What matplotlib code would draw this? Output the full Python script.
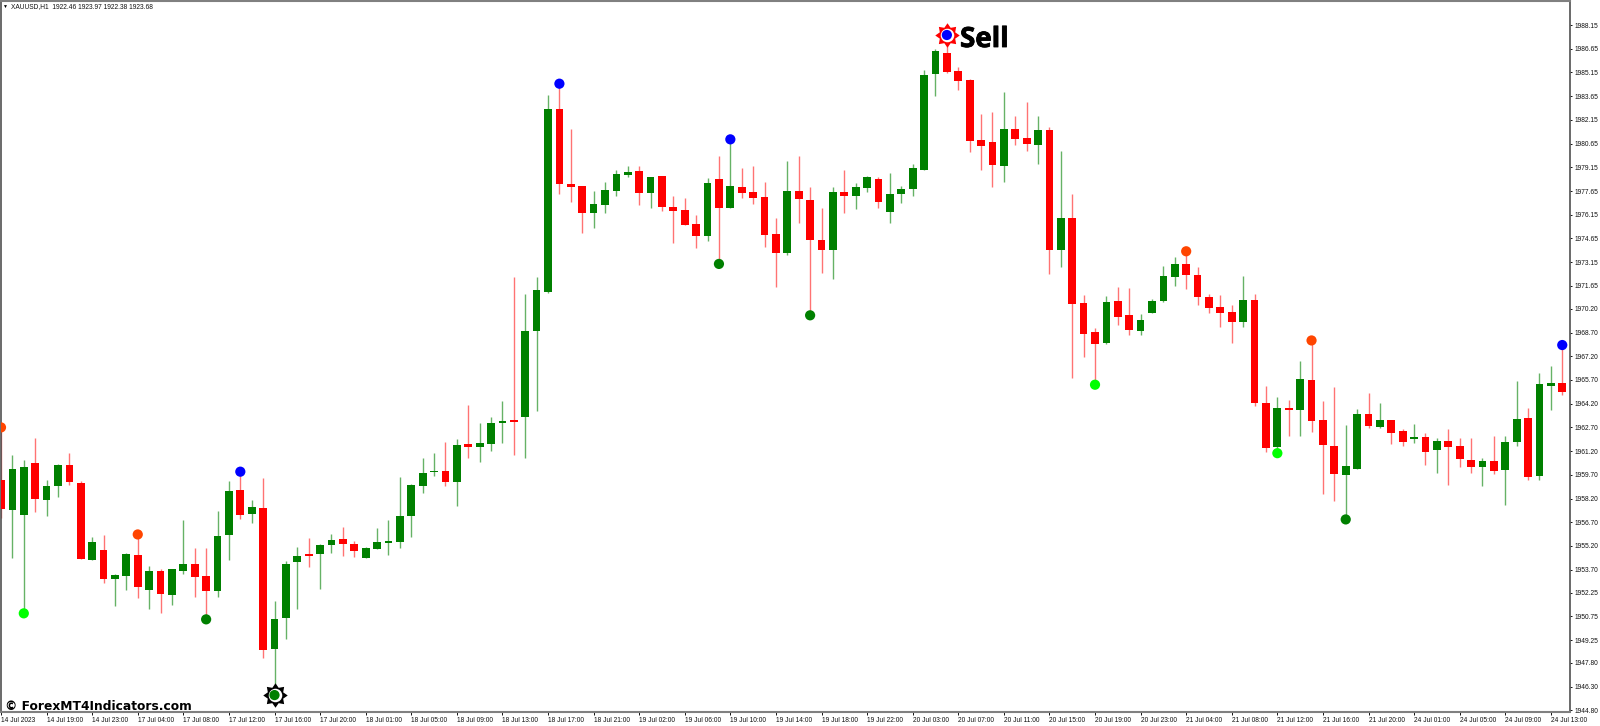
#!/usr/bin/env python3
# -*- coding: utf-8 -*-
import numpy as np
import matplotlib
matplotlib.use('Agg')
import matplotlib.pyplot as plt
import matplotlib.patheffects as pe
from matplotlib.path import Path

# hourly candles, one value per bar
open_p = [1959.35,1957.47,1957.16,1960.47,1958.10,1958.99,1960.32,1959.16,1954.31,1954.92,
          1953.13,1953.32,1954.65,1952.41,1953.61,1952.10,1953.61,1954.04,1953.30,1952.37,
          1955.89,1958.72,1957.22,1957.58,1948.68,1950.64,1954.16,1954.60,1954.67,1955.24,
          1955.62,1955.32,1954.46,1955.03,1955.41,1955.43,1957.11,1958.99,1959.85,1959.96,
          1959.26,1961.65,1961.48,1961.65,1962.95,1963.12,1963.38,1968.80,1971.29,1982.84,
          1978.12,1977.99,1976.24,1976.75,1977.65,1978.69,1978.90,1977.55,1978.58,1976.64,
          1976.45,1975.57,1974.81,1978.39,1976.60,1977.93,1977.57,1977.27,1974.93,1973.73,
          1977.63,1977.08,1974.55,1973.90,1977.59,1977.34,1977.86,1978.39,1976.30,1977.46,
          1977.78,1979.00,1985.03,1986.40,1985.24,1984.65,1980.88,1980.73,1979.23,1981.59,
          1981.00,1980.56,1981.51,1973.94,1975.96,1970.57,1968.71,1968.06,1970.69,1969.79,
          1968.82,1969.93,1970.69,1972.23,1973.03,1972.34,1970.94,1970.29,1970.01,1969.38,
          1970.73,1964.24,1961.45,1963.92,1963.79,1965.73,1963.20,1961.54,1959.70,1960.10,
          1963.56,1962.72,1963.16,1962.45,1961.96,1962.09,1961.24,1961.85,1961.50,1960.63,
          1960.17,1960.55,1959.98,1961.77,1963.29,1959.62,1965.33,1965.54]
high_p = [1962.70,1960.95,1960.63,1962.01,1959.37,1960.38,1961.06,1959.31,1955.79,1955.89,
          1953.42,1954.73,1955.93,1953.93,1953.74,1953.74,1956.84,1955.05,1955.05,1957.41,
          1959.31,1959.90,1958.10,1959.48,1951.70,1954.23,1955.15,1955.70,1955.30,1955.95,
          1956.42,1955.51,1955.11,1956.33,1956.84,1959.58,1959.09,1960.74,1961.10,1961.77,
          1961.98,1964.11,1962.98,1963.35,1964.39,1972.19,1971.14,1972.19,1983.73,1984.44,
          1981.55,1977.99,1977.65,1978.22,1978.98,1979.21,1979.21,1978.54,1978.58,1977.34,
          1977.19,1976.14,1978.46,1979.87,1980.92,1979.11,1979.21,1978.22,1975.95,1979.55,
          1979.87,1977.91,1976.55,1977.93,1978.98,1978.16,1978.62,1978.56,1978.79,1977.95,
          1979.34,1985.30,1986.61,1987.52,1985.47,1984.74,1982.50,1982.67,1983.89,1982.40,
          1983.26,1982.40,1981.68,1980.18,1977.46,1971.07,1968.96,1971.03,1971.60,1971.52,
          1969.89,1970.82,1972.91,1973.46,1973.84,1972.82,1971.11,1971.09,1970.46,1972.27,
          1971.13,1965.33,1964.62,1964.43,1966.87,1968.20,1964.38,1965.25,1962.85,1963.86,
          1964.87,1964.24,1963.16,1962.63,1962.91,1962.32,1962.04,1962.63,1962.00,1962.00,
          1960.74,1962.15,1962.17,1965.65,1963.94,1966.13,1966.58,1967.91]
low_p = [1956.95,1954.46,1950.94,1957.37,1957.11,1958.27,1959.07,1954.35,1954.31,1952.88,
         1951.42,1952.41,1951.93,1951.23,1950.94,1951.48,1953.42,1951.99,1950.56,1951.99,
         1954.31,1956.88,1956.63,1948.09,1945.77,1949.31,1951.23,1953.87,1952.45,1954.77,
         1954.56,1954.50,1954.46,1955.03,1954.63,1955.09,1955.79,1958.57,1959.62,1958.99,
         1957.75,1960.78,1960.49,1961.20,1961.73,1960.97,1960.74,1963.72,1971.18,1977.46,
         1976.96,1975.02,1975.33,1976.24,1977.36,1978.56,1976.79,1976.56,1976.39,1974.39,
         1975.52,1974.07,1974.49,1973.04,1976.56,1977.19,1976.83,1974.13,1971.60,1973.58,
         1975.65,1969.79,1972.44,1972.06,1976.24,1976.51,1977.59,1976.60,1975.65,1976.87,
         1977.34,1979.00,1983.66,1985.14,1984.04,1980.12,1978.98,1977.93,1978.22,1980.56,
         1980.20,1979.38,1972.40,1972.82,1965.80,1967.17,1965.40,1967.95,1969.18,1968.54,
         1968.54,1969.93,1970.65,1971.64,1971.47,1970.46,1969.93,1969.02,1968.07,1969.04,
         1964.07,1961.16,1961.07,1962.17,1962.17,1962.42,1958.48,1958.04,1956.88,1960.10,
         1962.68,1962.68,1961.67,1961.50,1961.69,1960.32,1959.83,1959.07,1960.19,1959.79,
         1959.01,1959.75,1957.81,1961.54,1959.39,1959.39,1963.79,1964.74]
close_p = [1957.51,1960.07,1960.19,1958.15,1958.99,1960.32,1959.26,1954.35,1955.43,1953.09,
           1953.34,1954.71,1952.60,1953.61,1952.16,1953.72,1954.04,1953.23,1952.37,1955.83,
           1958.67,1957.18,1957.64,1948.60,1950.56,1954.08,1954.56,1954.56,1955.28,1955.60,
           1955.34,1954.90,1955.09,1955.43,1955.43,1957.11,1959.07,1959.83,1959.92,1959.26,
           1961.58,1961.48,1961.69,1962.98,1963.12,1963.06,1968.80,1971.37,1982.84,1978.10,
           1977.91,1976.28,1976.81,1977.72,1978.75,1978.83,1977.51,1978.54,1976.66,1976.41,
           1975.52,1974.81,1978.16,1976.56,1977.99,1977.55,1977.23,1974.85,1973.73,1977.63,
           1977.15,1974.53,1973.90,1977.59,1977.34,1977.90,1978.52,1976.98,1977.48,1977.80,
           1979.11,1984.97,1986.51,1985.16,1984.63,1980.84,1980.52,1979.27,1981.59,1980.94,
           1980.62,1981.51,1973.94,1975.96,1970.52,1968.63,1968.00,1970.63,1969.70,1968.86,
           1969.51,1970.69,1972.27,1973.03,1972.34,1970.95,1970.27,1969.93,1969.38,1970.73,
           1964.24,1961.41,1963.92,1963.79,1965.78,1963.12,1961.56,1959.75,1960.29,1963.56,
           1962.76,1963.20,1962.36,1961.77,1962.04,1961.16,1961.81,1961.45,1960.70,1960.17,
           1960.55,1959.94,1961.77,1963.25,1959.58,1965.42,1965.48,1964.93]

# indicator dots
dot_bars = [0, 2, 12, 18, 21, 24, 49, 63, 64, 71, 83, 96, 104, 112, 115, 118, 137]
dot_prices = [1962.70, 1950.94, 1955.93, 1950.56, 1959.90, 1945.77, 1984.44, 1973.04, 1980.92,
              1969.79, 1987.52, 1965.40, 1973.84, 1961.07, 1968.20, 1956.88, 1967.91]
dot_colors = ['#FF4500', '#00FF00', '#FF4500', '#008000', '#0000FF', '#008000', '#0000FF',
              '#008000', '#0000FF', '#008000', '#0000FF', '#00FF00', '#FF4500', '#00FF00',
              '#FF4500', '#008000', '#0000FF']

y_ticks = [1988.15, 1986.65, 1985.15, 1983.65, 1982.15, 1980.65, 1979.15, 1977.65, 1976.15,
           1974.65, 1973.15, 1971.65, 1970.20, 1968.70, 1967.20, 1965.70, 1964.20, 1962.70,
           1961.20, 1959.70, 1958.20, 1956.70, 1955.20, 1953.70, 1952.25, 1950.75, 1949.25,
           1947.80, 1946.30, 1944.80]
x_labels = ['14 Jul 2023', '14 Jul 19:00', '14 Jul 23:00', '17 Jul 04:00', '17 Jul 08:00',
            '17 Jul 12:00', '17 Jul 16:00', '17 Jul 20:00', '18 Jul 01:00', '18 Jul 05:00',
            '18 Jul 09:00', '18 Jul 13:00', '18 Jul 17:00', '18 Jul 21:00', '19 Jul 02:00',
            '19 Jul 06:00', '19 Jul 10:00', '19 Jul 14:00', '19 Jul 18:00', '19 Jul 22:00',
            '20 Jul 03:00', '20 Jul 07:00', '20 Jul 11:00', '20 Jul 15:00', '20 Jul 19:00',
            '20 Jul 23:00', '21 Jul 04:00', '21 Jul 08:00', '21 Jul 12:00', '21 Jul 16:00',
            '21 Jul 20:00', '24 Jul 01:00', '24 Jul 05:00', '24 Jul 09:00', '24 Jul 13:00']

plt.rcParams['font.family'] = ['Liberation Sans', 'DejaVu Sans']

W, H = 1600, 726
fig = plt.figure(figsize=(W / 100, H / 100), dpi=100, facecolor='white')
ax = fig.add_axes([1 / W, (H - 712) / H, 1569 / W, 711 / H])

o = np.array(open_p)
c = np.array(close_p)
bars = np.arange(len(o))
up = c > o
colors = np.where(up, '#008000', '#FF0000')

ax.vlines(bars[up], np.array(low_p)[up], np.array(high_p)[up], color='#008000', lw=1.0, alpha=0.6, zorder=2)
ax.vlines(bars[~up], np.array(low_p)[~up], np.array(high_p)[~up], color='#FF0000', lw=1.0, alpha=0.55, zorder=2)
# minimum height so the doji bars still show
body_h = np.maximum(np.abs(c - o), 0.12)
ax.bar(bars, body_h, bottom=np.minimum(o, c), width=0.68, color=colors, linewidth=0, zorder=3)

# the two sun signals
sun = Path.unit_regular_star(8, innerCircle=0.68)
ax.scatter([24], [dot_prices[5]], marker=sun, s=310, color='black', linewidths=0, zorder=4)
ax.scatter([83], [dot_prices[10]], marker=sun, s=310, color='#FF0000', linewidths=0, zorder=4)
ax.scatter([24, 83], [dot_prices[5], dot_prices[10]], s=95, color='white', linewidths=0, zorder=5)
ax.scatter(dot_bars, dot_prices, s=54, c=dot_colors, linewidths=0, zorder=6)

ax.set_xlim(0.04, 137.68)
ax.set_ylim(1944.70, 1989.67)

ax.yaxis.tick_right()
ax.set_yticks(y_ticks)
ax.set_yticklabels(['%.2f' % v for v in y_ticks])
ax.set_xticks(bars[::4])
ax.set_xticklabels(x_labels, ha='left')
ax.tick_params(axis='y', length=1.6, width=0.7, pad=2, labelsize=4.8, colors='#111111')
ax.tick_params(axis='x', length=1.8, width=0.7, pad=1.6, labelsize=4.8, colors='#111111')

for side in ['left', 'right']:
    ax.spines[side].set_color('#505050')
    ax.spines[side].set_linewidth(1.2)
for side in ['top', 'bottom']:
    ax.spines[side].set_color('#808080')
    ax.spines[side].set_linewidth(1.5)

fig.text(2.5 / W, 1 - 6.5 / H, '\u25bc', fontsize=3.6, va='center', ha='left', color='black')
fig.text(11 / W, 1 - 6.5 / H, 'XAUUSD,H1  1922.46 1923.97 1922.38 1923.68', fontsize=4.8, va='center', color='#111111')
sell = fig.text(960 / W, 1 - 47 / H, 'Sell', fontsize=20, fontweight='bold', family='Open Sans', va='baseline', color='black')
sell.set_path_effects([pe.withStroke(linewidth=0.6, foreground='black')])
fig.text(5 / W, 1 - 709.5 / H, '\u00a9 ForexMT4Indicators.com', fontsize=8.8, fontweight='bold', family='DejaVu Sans',
         va='baseline', color='black')

fig.savefig('out.png', dpi=100, facecolor='white')
